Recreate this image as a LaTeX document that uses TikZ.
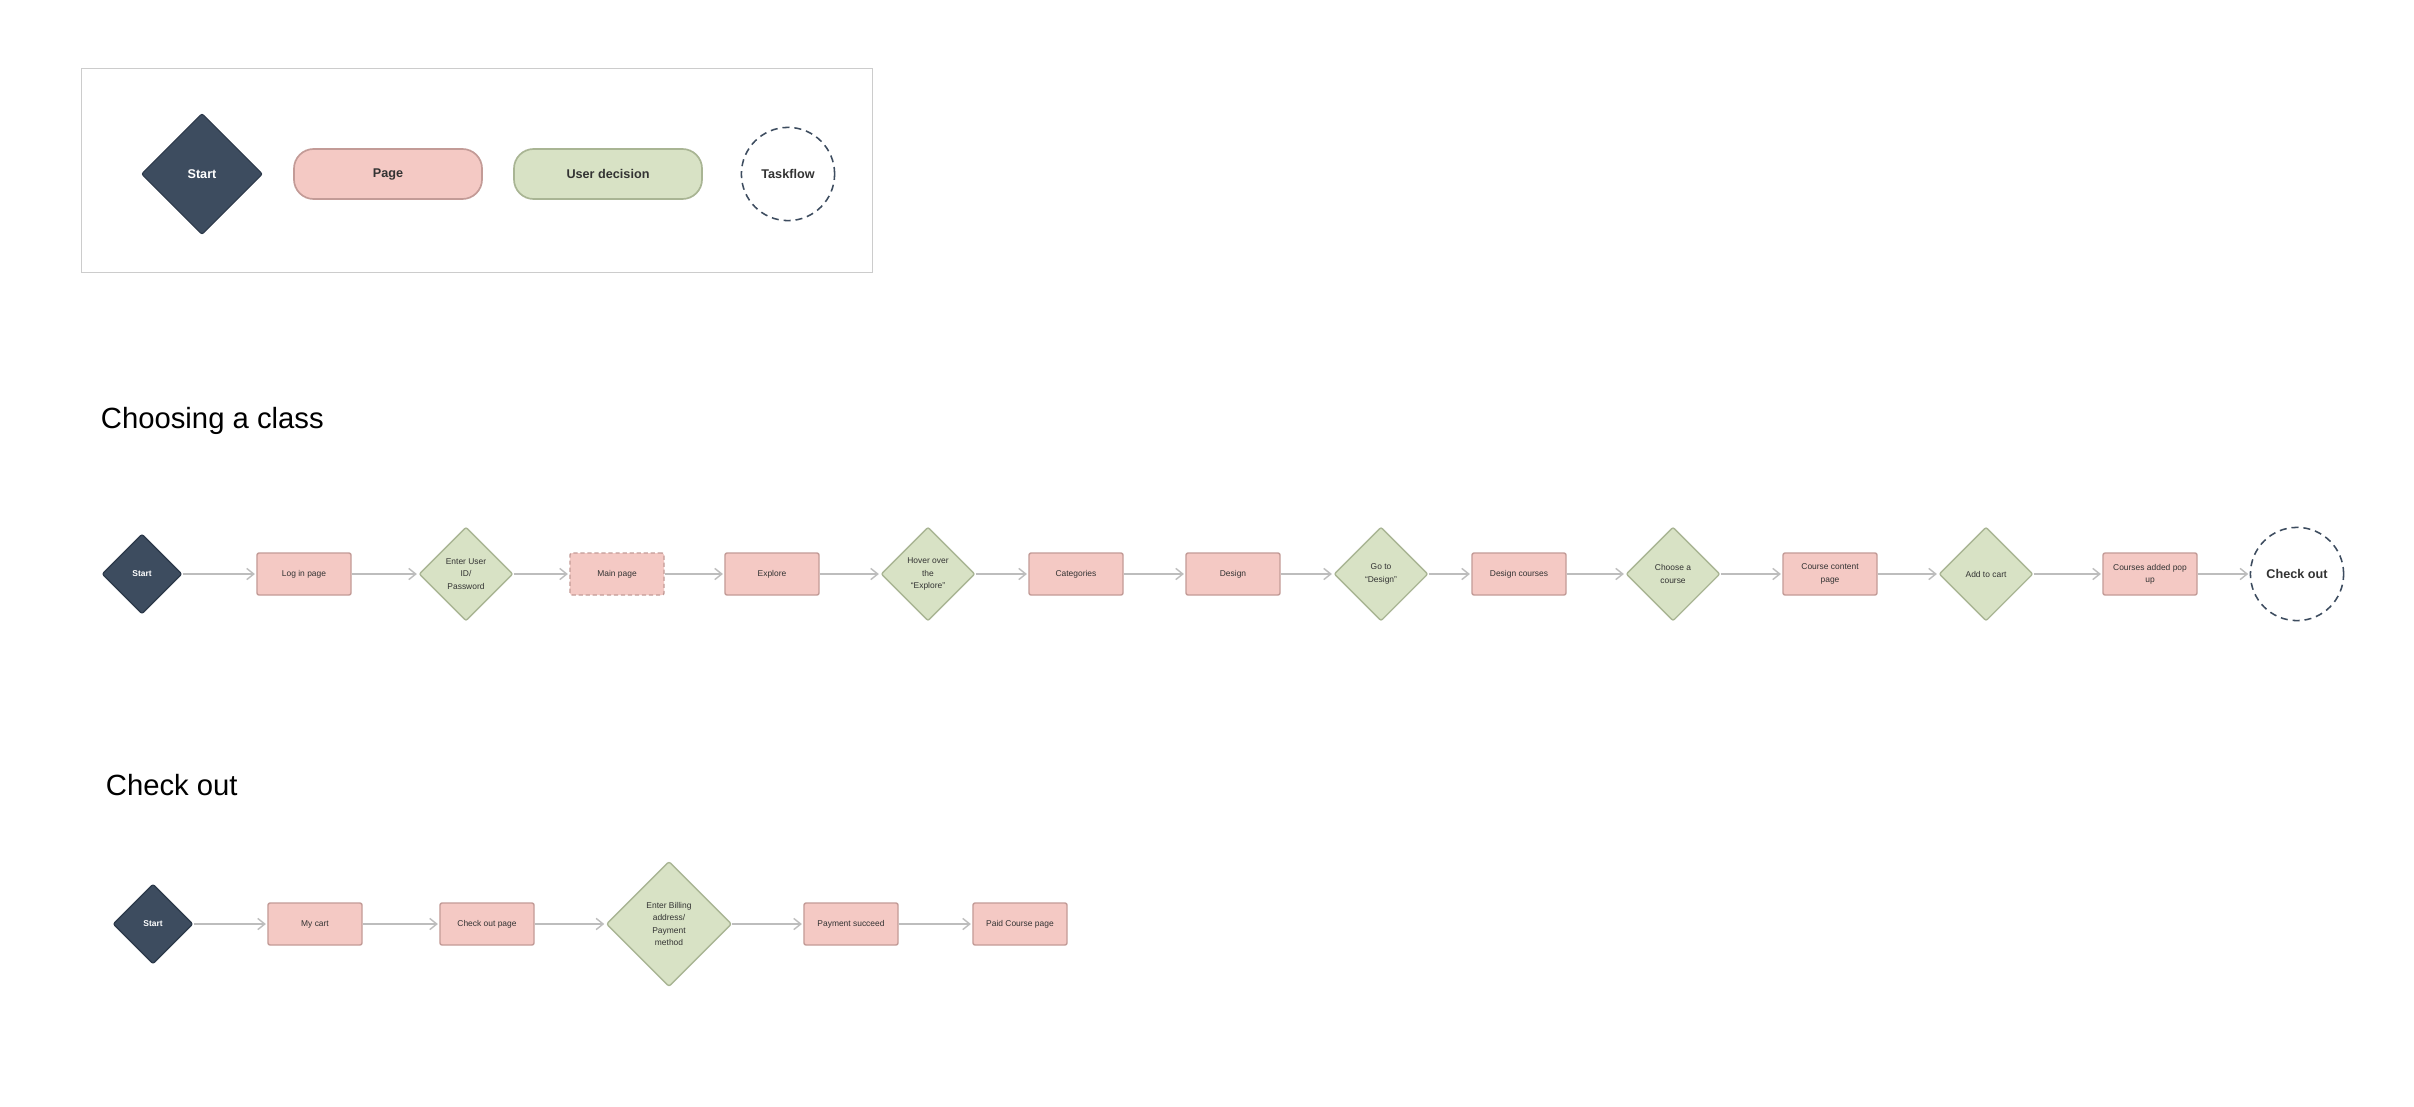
\documentclass[tikz,border=0pt]{standalone}
\usepackage{fontspec}
\setmainfont{Liberation Sans}
\usetikzlibrary{shapes.geometric, arrows.meta}

\definecolor{pagefill}{HTML}{F4C9C4}
\definecolor{pageline}{HTML}{C39B97}
\definecolor{decfill}{HTML}{D8E2C5}
\definecolor{decline}{HTML}{A9B594}
\definecolor{startfill}{HTML}{3D4C5F}
\definecolor{startline}{HTML}{2C394A}
\definecolor{arrowgray}{HTML}{BDBDBD}
\definecolor{legendline}{HTML}{CCCCCC}
\definecolor{boxtext}{HTML}{333333}

\newcommand{\boxfont}{\fontsize{6}{8.8}\selectfont}

\begin{document}
\begin{tikzpicture}[x=0.025cm, y=-0.025cm,
    page/.style={draw=pageline, fill=pagefill, line width=1pt, rounded corners=1.5pt,
        minimum width=2.35cm, minimum height=1.05cm, inner sep=1pt, align=center,
        text=boxtext, font=\boxfont},
    decision/.style={diamond, draw=decline, fill=decfill, line width=1pt, aspect=1,
        rounded corners=1.5pt, minimum size=2.35cm, inner sep=0pt, align=center,
        text=boxtext, font=\boxfont},
    startnode/.style={diamond, draw=startline, fill=startfill, line width=0.8pt, aspect=1,
        rounded corners=1.5pt, minimum size=2cm, inner sep=0pt, text=white,
        font=\boxfont\bfseries},
    taskflow/.style={circle, draw=startfill, fill=white, line width=1.1pt,
        dash pattern=on 5pt off 3.5pt, minimum size=2.33cm, inner sep=0pt,
        text=boxtext, font=\fontsize{9}{11}\selectfont\bfseries},
    legendpill/.style={line width=1.2pt, rounded corners=14pt, minimum width=4.7cm,
        minimum height=1.25cm, text=boxtext, font=\fontsize{9}{11}\selectfont\bfseries},
    title/.style={anchor=base west, font=\fontsize{20.8}{24}\selectfont},
    flow/.style={draw=arrowgray, line width=1pt, shorten >=1pt,
        -{Straight Barb[length=5pt, width=8pt]}}]

    % Canvas
    \useasboundingbox[fill=white] (0,0) rectangle (2414,1106);

    % Legend
    \draw[legendline, line width=0.6pt] (81,68) rectangle (872,272);
    \node[startnode, minimum size=3.03cm, font=\fontsize{9}{11}\selectfont\bfseries] (keystart) at (202,174) {Start};
    \node[legendpill, draw=pageline, fill=pagefill] (keypage) at (388,174) {Page};
    \node[legendpill, draw=decline, fill=decfill] (keydecision) at (608,174) {User decision};
    \node[taskflow] (keytask) at (788,174) {Taskflow};

    % Choosing a class
    \node[title] (classtitle) at (96,428) {Choosing a class};

    \node[startnode] (start) at (142,574) {Start};
    \node[page] (login) at (304,574) {Log in page};
    \node[decision] (userid) at (466,574) {Enter User\\ID/\\Password};
    \node[page, dashed, dash pattern=on 3pt off 2pt] (mainpage) at (617,574) {Main page};
    \node[page] (explore) at (772,574) {Explore};
    \node[decision] (hover) at (928,574) {Hover over\\the\\“Explore”};
    \node[page] (categories) at (1076,574) {Categories};
    \node[page] (design) at (1233,574) {Design};
    \node[decision] (godesign) at (1381,574) {Go to\\“Design”};
    \node[page] (designcourses) at (1519,574) {Design courses};
    \node[decision] (choose) at (1673,574) {Choose a\\course};
    \node[page] (content) at (1830,574) {Course content\\page};
    \node[decision] (addcart) at (1986,574) {Add to cart};
    \node[page] (popup) at (2150,574) {Courses added pop\\up};
    \node[taskflow] (checkout) at (2297,574) {Check out};

    \foreach \a/\b in {start/login, login/userid, userid/mainpage, mainpage/explore,
        explore/hover, hover/categories, categories/design, design/godesign,
        godesign/designcourses, designcourses/choose, choose/content,
        content/addcart, addcart/popup, popup/checkout}
        \draw[flow] (\a) -- (\b);

    % Check out
    \node[title] (checktitle) at (101,795) {Check out};

    \node[startnode] (paystart) at (153,924) {Start};
    \node[page] (cart) at (315,924) {My cart};
    \node[page] (checkpage) at (487,924) {Check out page};
    \node[decision, minimum size=3.13cm] (billing) at (669,924) {Enter Billing\\address/\\Payment\\method};
    \node[page] (succeed) at (851,924) {Payment succeed};
    \node[page] (paid) at (1020,924) {Paid Course page};

    \foreach \a/\b in {paystart/cart, cart/checkpage, checkpage/billing,
        billing/succeed, succeed/paid}
        \draw[flow] (\a) -- (\b);

\end{tikzpicture}
\end{document}
